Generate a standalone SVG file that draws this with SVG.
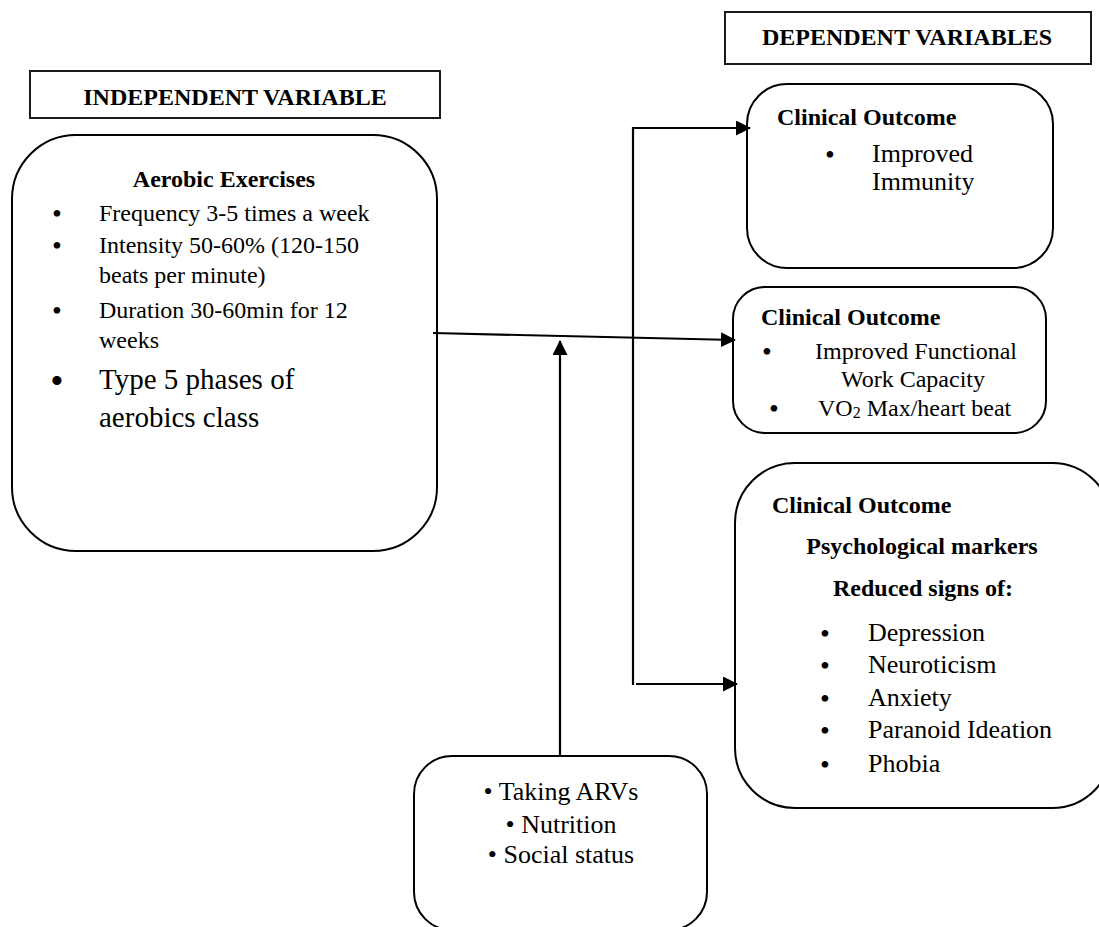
<svg xmlns="http://www.w3.org/2000/svg" width="1099" height="927" viewBox="0 0 1099 927">
<style>
text{font-family:"Liberation Serif","Times New Roman",serif;fill:#000}
.b{font-weight:bold;font-size:24px}
.r{font-size:24px}
.m{font-size:26px}
.l{font-size:29px}
.c{text-anchor:middle}
.bu{font-size:28px;text-anchor:middle}
.bl{font-size:38px;text-anchor:middle}
.box{fill:#fff;stroke:#000;stroke-width:2}
.hdr{fill:#fff;stroke:#1a1a1a;stroke-width:2}
.con{fill:none;stroke:#000;stroke-width:2.2}
</style>
<defs>
<marker id="ah" markerUnits="userSpaceOnUse" markerWidth="16" markerHeight="16" refX="14" refY="7.5" orient="auto">
<path d="M0,0 L15,7.5 L0,15 Z" fill="#000"/>
</marker>
</defs>
<rect width="1099" height="927" fill="#fff"/>
<g id="independent-header">
<rect class="hdr" x="30" y="71" width="410" height="47"/>
<text class="b c" x="235" y="105">INDEPENDENT VARIABLE</text>
</g>
<g id="dependent-header">
<rect class="hdr" x="725" y="12" width="366" height="52"/>
<text class="b c" x="907" y="45">DEPENDENT VARIABLES</text>
</g>
<g id="aerobic-exercises">
<rect class="box" x="12" y="135" width="425" height="416" rx="64" ry="64"/>
<text class="b c" x="224" y="187">Aerobic Exercises</text>
<text class="bu" x="57" y="223">•</text>
<text class="r" x="99" y="221">Frequency 3-5 times a week</text>
<text class="bu" x="57" y="255">•</text>
<text class="r" x="99" y="253">Intensity 50-60% (120-150</text>
<text class="r" x="99" y="283">beats per minute)</text>
<text class="bu" x="57" y="320">•</text>
<text class="r" x="99" y="318">Duration 30-60min for 12</text>
<text class="r" x="99" y="348">weeks</text>
<text class="bl" x="57" y="394">•</text>
<text class="l" x="99" y="389">Type 5 phases of</text>
<text class="l" x="99" y="427">aerobics class</text>
</g>
<g id="outcome-immunity">
<rect class="box" x="747" y="84" width="306" height="184" rx="40" ry="40"/>
<text class="b" x="777" y="125">Clinical Outcome</text>
<text class="bu" x="830" y="164">•</text>
<text class="m" x="872" y="162">Improved</text>
<text class="m" x="872" y="190">Immunity</text>
</g>
<g id="outcome-functional">
<rect class="box" x="733" y="287" width="313" height="146" rx="32" ry="32"/>
<text class="b" x="761" y="325">Clinical Outcome</text>
<text class="bu" x="767" y="361">•</text>
<text class="r c" x="916" y="359">Improved Functional</text>
<text class="r c" x="913" y="387">Work Capacity</text>
<text class="bu" x="774" y="418">•</text>
<text class="r" x="818" y="416">VO<tspan font-size="16" dy="2">2</tspan><tspan dy="-2"> Max/heart beat</tspan></text>
</g>
<g id="outcome-psychological">
<rect class="box" x="735" y="463" width="377" height="345" rx="60" ry="60"/>
<text class="b" x="772" y="513">Clinical Outcome</text>
<text class="b c" x="922" y="554">Psychological markers</text>
<text class="b c" x="923" y="596">Reduced signs of:</text>
<text class="bu" x="825" y="643">•</text>
<text class="m" x="868" y="641">Depression</text>
<text class="bu" x="825" y="675">•</text>
<text class="m" x="868" y="673">Neuroticism</text>
<text class="bu" x="825" y="708">•</text>
<text class="m" x="868" y="706">Anxiety</text>
<text class="bu" x="825" y="740">•</text>
<text class="m" x="868" y="738">Paranoid Ideation</text>
<text class="bu" x="825" y="774">•</text>
<text class="m" x="868" y="772">Phobia</text>
</g>
<g id="moderators">
<rect class="box" x="414" y="756" width="293" height="174" rx="38" ry="38"/>
<text class="m c" x="561" y="800">• Taking ARVs</text>
<text class="m c" x="561" y="833">• Nutrition</text>
<text class="m c" x="561" y="863">• Social status</text>
</g>
<g id="connectors">
<path class="con" d="M433,333 L735,340" marker-end="url(#ah)"/>
<path class="con" d="M633,685 V128 H750" marker-end="url(#ah)"/>
<path class="con" d="M636,684 H737" marker-end="url(#ah)"/>
<path class="con" d="M560,756 V341" marker-end="url(#ah)"/>
</g>
</svg>
